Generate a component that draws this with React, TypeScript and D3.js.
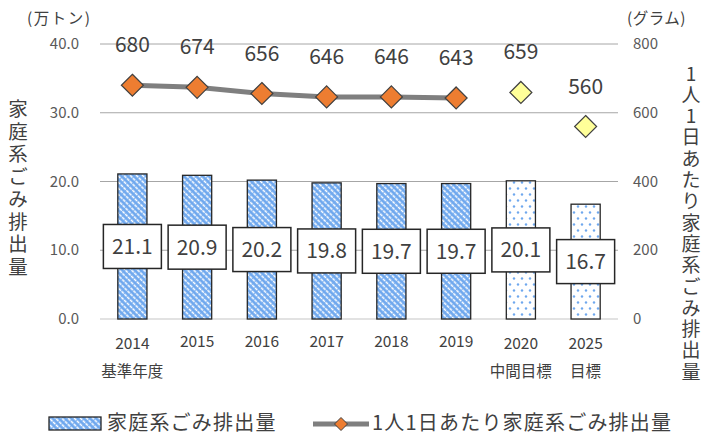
import React from "react";
import * as d3 from "d3";

const years = ["2014", "2015", "2016", "2017", "2018", "2019", "2020", "2025"];
const subLabels = ["基準年度", "", "", "", "", "", "中間目標", "目標"];
const householdWaste = [21.1, 20.9, 20.2, 19.8, 19.7, 19.7, 20.1, 16.7];
const isTarget = [false, false, false, false, false, false, true, true];
const perCapita = [680, 674, 656, 646, 646, 643, 659, 560];
const leftTicks = [0, 10, 20, 30, 40];
const rightTicks = [0, 200, 400, 600, 800];
const leftTitle = "家庭系ごみ排出量";
const rightTitle = "1人1日あたり家庭系ごみ排出量";
const legendBar = "家庭系ごみ排出量";
const legendLine = "1人1日あたり家庭系ごみ排出量";

const W = 709;
const H = 447;
const plot = { left: 100, right: 618, top: 44, bottom: 319 };
const FONT = "'Noto Sans CJK JP', 'Noto Sans', sans-serif";

export default function App() {
  const x = d3.scaleBand<string>().domain(years).range([plot.left, plot.right]).paddingInner(0).paddingOuter(0);
  const yL = d3.scaleLinear().domain([0, 40]).range([plot.bottom, plot.top]);
  const yR = d3.scaleLinear().domain([0, 800]).range([plot.bottom, plot.top]);
  const bw = x.bandwidth() * 0.45;
  const cx = (i: number) => (x(years[i]) as number) + x.bandwidth() / 2;

  const actualIdx = perCapita.map((_, i) => i).filter((i) => !isTarget[i]);
  const line = d3
    .line<number>()
    .x((i) => cx(i))
    .y((i) => yR(perCapita[i]));

  const diamond = (px: number, py: number, r: number) =>
    `M${px},${py - r}L${px + r},${py}L${px},${py + r}L${px - r},${py}Z`;

  return (
    <svg width={W} height={H} style={{ position: "absolute", left: 0, top: 0, background: "#fff" }} fontFamily={FONT}>
      <defs>
        <pattern id="stripe" width="8" height="4.4" patternUnits="userSpaceOnUse" patternTransform="rotate(45)">
          <rect width="8" height="4.4" fill="#6FA8EE" />
          <line x1="0" y1="1.2" x2="8" y2="1.2" stroke="#ffffff" strokeWidth="1.5" strokeDasharray="3.2 0.8" />
        </pattern>
        <pattern id="dots" width="8" height="12" patternUnits="userSpaceOnUse">
          <rect width="8" height="12" fill="#ffffff" />
          <circle cx="2" cy="2.5" r="1.2" fill="#6FA8EE" />
          <circle cx="6" cy="8.5" r="1.2" fill="#6FA8EE" />
        </pattern>
      </defs>

      {/* gridlines */}
      {leftTicks.map((t) => (
        <line
          key={"g" + t}
          x1={plot.left}
          x2={plot.right}
          y1={yL(t)}
          y2={yL(t)}
          stroke={t === 0 ? "#D9D9D9" : "#A6A6A6"}
          strokeWidth={t === 0 ? 1.5 : 1}
        />
      ))}

      {/* left ticks */}
      {leftTicks.map((t) => (
        <text key={"l" + t} x={79} y={yL(t) + 5} textAnchor="end" fontSize={15} fill="#595959">
          {t.toFixed(1)}
        </text>
      ))}
      {/* right ticks */}
      {rightTicks.map((t) => (
        <text key={"r" + t} x={633} y={yR(t) + 5} textAnchor="start" fontSize={15} fill="#595959">
          {t}
        </text>
      ))}

      {/* units */}
      <text x={27} y={24} fontSize={15.5} fill="#404040" letterSpacing={1.5}>(万トン)</text>
      <text x={627} y={24} fontSize={15.5} fill="#404040" letterSpacing={0.5}>(グラム)</text>

      {/* axis titles */}
      {Array.from(leftTitle).map((ch, i) => (
        <text key={"lt" + i} x={18} y={109 + i * 22.5 + 7} textAnchor="middle" fontSize={19.5} fill="#404040">
          {ch}
        </text>
      ))}
      {Array.from(rightTitle).map((ch, i) => (
        <text key={"rt" + i} x={691} y={73.5 + i * 21.3 + 7} textAnchor="middle" fontSize={19} fill="#404040">
          {ch}
        </text>
      ))}

      {/* bars */}
      {householdWaste.map((v, i) => (
        <rect
          key={"b" + i}
          x={cx(i) - bw / 2}
          y={yL(v)}
          width={bw}
          height={yL(0) - yL(v)}
          fill={isTarget[i] ? "url(#dots)" : "url(#stripe)"}
          stroke="#262626"
          strokeWidth={1.3}
        />
      ))}

      {/* bar labels */}
      {householdWaste.map((v, i) => {
        const my = yL(v / 2);
        return (
          <g key={"bl" + i}>
            <rect x={cx(i) - 29} y={my - 22} width={58} height={44} fill="#fff" stroke="#262626" strokeWidth={1.5} />
            <text x={cx(i)} y={my + 7.5} textAnchor="middle" fontSize={21} fill="#404040">
              {v.toFixed(1)}
            </text>
          </g>
        );
      })}

      {/* line */}
      <path d={line(actualIdx) || ""} fill="none" stroke="#7F7F7F" strokeWidth={5} />
      {perCapita.map((v, i) => (
        <path
          key={"m" + i}
          d={diamond(cx(i), yR(v), 11)}
          fill={isTarget[i] ? "#FFFF99" : "#ED7D31"}
          stroke="#404040"
          strokeWidth={1.2}
        />
      ))}
      {perCapita.map((v, i) => (
        <text key={"ml" + i} x={cx(i)} y={yR(v) - 33} textAnchor="middle" fontSize={21} fill="#404040">
          {v}
        </text>
      ))}

      {/* x labels */}
      {years.map((yr, i) => {
        const two = subLabels[i] !== "";
        return (
          <g key={"x" + i}>
            <text x={cx(i)} y={two ? 349 : 347} textAnchor="middle" fontSize={15.5} fill="#404040">
              {yr}
            </text>
            {two && (
              <text x={cx(i)} y={377} textAnchor="middle" fontSize={15.5} fill="#404040">
                {subLabels[i]}
              </text>
            )}
          </g>
        );
      })}

      {/* legend */}
      <rect x={49} y={417} width={52} height={13} fill="url(#stripe)" stroke="#262626" strokeWidth={1.3} />
      <text x={107} y={430} fontSize={20} fill="#404040" letterSpacing={1.2}>{legendBar}</text>
      <line x1={313} x2={369} y1={424} y2={424} stroke="#7F7F7F" strokeWidth={5} />
      <path d={diamond(341, 424, 6.5)} fill="#ED7D31" stroke="#404040" strokeWidth={1} />
      <text x={372} y={430} fontSize={20} fill="#404040" letterSpacing={1.2}>{legendLine}</text>
    </svg>
  );
}
